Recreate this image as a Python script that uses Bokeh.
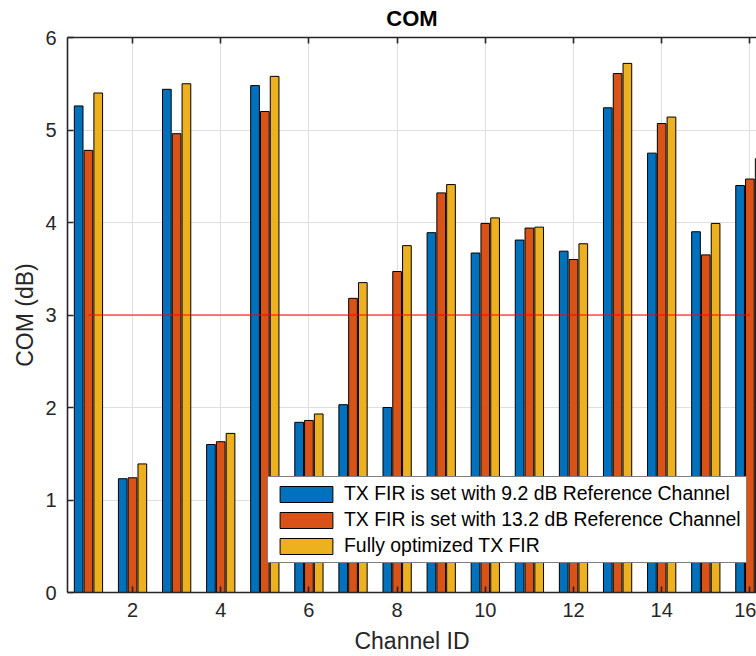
from bokeh.plotting import figure
from bokeh.models import (Range1d, LinearAxis, FixedTicker, Legend, LegendItem,
                          ColumnDataSource, Grid)
from bokeh.embed import file_html
from bokeh.resources import INLINE

# ---------------- data ----------------
channels = list(range(1, 17))
com_ref_9p2 = [5.26, 1.23, 5.44, 1.60, 5.48, 1.84, 2.03, 2.00, 3.89, 3.67, 3.81, 3.69, 5.24, 4.75, 3.90, 4.40]
com_ref_13p2 = [4.78, 1.24, 4.96, 1.63, 5.20, 1.86, 3.18, 3.47, 4.32, 3.99, 3.94, 3.60, 5.61, 5.07, 3.65, 4.47]
com_full_opt = [5.40, 1.39, 5.50, 1.72, 5.58, 1.93, 3.35, 3.75, 4.41, 4.05, 3.95, 3.77, 5.72, 5.14, 3.99, 4.69]
series_names = ["TX FIR is set with 9.2 dB Reference Channel",
                "TX FIR is set with 13.2 dB Reference Channel",
                "Fully optimized TX FIR"]
threshold_value = 3.0
threshold_span = [1, 16]
x_ticks = [2, 4, 6, 8, 10, 12, 14, 16]
y_ticks = [0, 1, 2, 3, 4, 5, 6]
title_text = "COM"
x_label = "Channel ID"
y_label = "COM (dB)"

# ---------------- style ----------------
colors = ["#0072BD", "#D95319", "#EDB120"]
offsets = [-0.222, 0.0, 0.222]
bar_width = 0.197
axis_color = "#262626"
font = "Liberation Sans"

p = figure(width=756, height=656, output_backend="svg", toolbar_location=None,
           x_range=Range1d(0.525, 16.15), y_range=Range1d(0, 6),
           min_border_left=67, min_border_right=0, min_border_top=37,
           min_border_bottom=64, x_axis_location=None, y_axis_location=None)
p.outline_line_color = None
p.background_fill_color = "white"
p.border_fill_color = "white"

def style_axis(ax, ticks, show_labels=True):
    ax.ticker = FixedTicker(ticks=ticks)
    ax.axis_line_color = axis_color
    ax.axis_line_width = 1.6
    ax.major_tick_line_color = axis_color
    ax.major_tick_line_width = 1.6
    ax.major_tick_in = 6
    ax.major_tick_out = 0
    ax.minor_tick_line_color = None
    ax.major_label_text_font = font
    ax.major_label_text_font_size = "20px"
    ax.major_label_text_color = axis_color
    ax.axis_label_text_font = font
    ax.axis_label_text_font_size = "23px"
    ax.axis_label_text_font_style = "normal"
    ax.axis_label_text_color = axis_color
    if not show_labels:
        ax.major_label_text_font_size = "0px"
        ax.major_label_text_color = None

xb = LinearAxis(axis_label=x_label)
style_axis(xb, x_ticks)
xb.major_label_standoff = 10
xb.axis_label_standoff = 8
p.add_layout(xb, "below")

# top box edge, carrying the title
xt = LinearAxis(axis_label=title_text)
style_axis(xt, x_ticks, show_labels=False)
xt.major_label_standoff = 0
xt.axis_label_standoff = 7
xt.axis_label_text_font_style = "bold"
xt.axis_label_text_font_size = "22px"
xt.axis_label_text_color = "black"
p.add_layout(xt, "above")

yl = LinearAxis(axis_label=y_label)
style_axis(yl, y_ticks)
yl.major_label_standoff = 11
yl.axis_label_standoff = 4
p.add_layout(yl, "left")

p.xgrid.visible = False
p.ygrid.visible = False
p.add_layout(Grid(dimension=0, ticker=FixedTicker(ticks=x_ticks),
                  grid_line_color="#dfdfdf", grid_line_width=1))
p.add_layout(Grid(dimension=1, ticker=FixedTicker(ticks=y_ticks),
                  grid_line_color="#dfdfdf", grid_line_width=1))

# bars
renderers = []
for vals, col, off in zip([com_ref_9p2, com_ref_13p2, com_full_opt], colors, offsets):
    src = ColumnDataSource(dict(x=[c + off for c in channels], top=vals))
    r = p.vbar(x="x", top="top", bottom=0, width=bar_width, source=src,
               fill_color=col, line_color="black", line_width=1)
    renderers.append(r)

# threshold line
p.line(x=threshold_span, y=[threshold_value, threshold_value], line_color="#FF0000", line_width=1)

# legend
legend = Legend(items=[LegendItem(label=n, renderers=[r]) for n, r in zip(series_names, renderers)],
                location=(200, 29), orientation="vertical",
                glyph_width=66, glyph_height=20, label_height=20, label_width=10,
                spacing=3, padding=5, margin=0, label_standoff=5,
                label_text_font=font, label_text_font_size="19.4px", label_text_color="black",
                border_line_color="black", border_line_width=1,
                background_fill_color="white", background_fill_alpha=1.0)
p.add_layout(legend)

open("out.html", "w").write(file_html(p, INLINE))
